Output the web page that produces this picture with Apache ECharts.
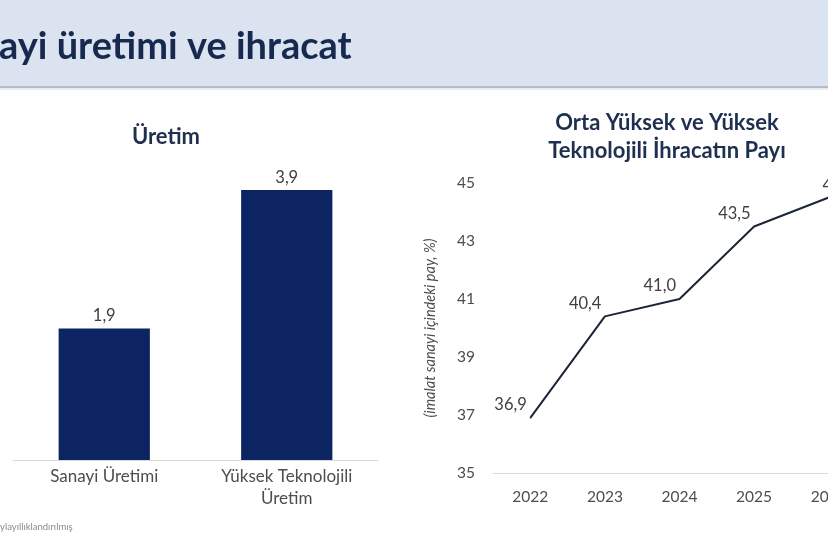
<!DOCTYPE html>
<html><head><meta charset="utf-8">
<script src="https://cdn.jsdelivr.net/npm/echarts@6/dist/echarts.min.js"></script>
<style>html,body{margin:0;padding:0;background:#fff;overflow:hidden;width:828px;height:552px}#c{width:870px;height:552px}</style>
</head><body><div id="c"></div>
<script>
// Left chart: production
const barCategories = ['Sanayi Üretimi', 'Yüksek Teknolojili\nÜretim'];
const barValues = [1.9, 3.9];
// Right chart: share of medium-high and high tech exports
const years = ['2022', '2023', '2024', '2025', '2026'];
const shareValues = [36.9, 40.4, 41.0, 43.5, 44.5];
const shareTicks = [35, 37, 39, 41, 43, 45];

const headerTitle = 'ayi üretimi ve ihracat';
const leftTitle = 'Üretim';
const rightTitle = 'Orta Yüksek ve Yüksek\nTeknolojili İhracatın Payı';
const rightAxisName = '(imalat sanayi içindeki pay, %)';
const footnote = 'ylayıllıklandırılmış';

const FONT = 'Lato, "Open Sans", sans-serif';
const fmt = v => Number(v).toFixed(1).replace('.', ',');

const chart = echarts.init(document.getElementById('c'), null, {renderer: 'canvas'});

const lineData = shareValues.map((v, i) => {
  if (i === shareValues.length - 1) {
    return {value: v, label: {position: 'top', offset: [10, 0]}};
  }
  return v;
});

chart.setOption({
  backgroundColor: '#ffffff',
  animation: false,
  textStyle: {fontFamily: FONT},
  graphic: [
    {type: 'rect', shape: {x: 0, y: 0, width: 870, height: 86}, style: {fill: '#dae3ef'}, z: 0},
    {type: 'rect', shape: {x: 0, y: 86, width: 870, height: 2}, style: {fill: '#b4bcc7'}, z: 0},
    {type: 'rect', shape: {x: 0, y: 88, width: 870, height: 2}, style: {fill: '#e9edf2'}, z: 0},
    {type: 'text', x: -1, y: 47, style: {text: headerTitle, fill: '#17294f', font: 'bold 38px ' + FONT, textVerticalAlign: 'middle'}, z: 1},
    {type: 'text', x: 0, y: 527, style: {text: footnote, fill: '#8c8c8c', font: '9.5px ' + FONT, textVerticalAlign: 'middle'}, z: 1}
  ],
  title: [
    {text: leftTitle, left: 161, top: 121, textAlign: 'center',
     textStyle: {fontFamily: FONT, fontSize: 22, fontWeight: 'bold', color: '#1f2f4f'}},
    {text: rightTitle, left: 662, top: 104, textAlign: 'center',
     textStyle: {fontFamily: FONT, fontSize: 22, fontWeight: 'bold', color: '#1f2f4f', lineHeight: 28}}
  ],
  grid: [
    {left: 13, right: 492, top: 114, bottom: 92},
    {left: 493, right: 4, top: 183, bottom: 79}
  ],
  xAxis: [
    {type: 'category', gridIndex: 0, data: barCategories,
     axisLine: {lineStyle: {color: '#d9d9d9', width: 1}}, axisTick: {show: false},
     axisLabel: {color: '#4d4d4d', fontSize: 17, fontFamily: FONT, lineHeight: 22, margin: 6}},
    {type: 'category', gridIndex: 1, data: years, boundaryGap: true,
     axisLine: {lineStyle: {color: '#d9d9d9', width: 1}}, axisTick: {show: false},
     axisLabel: {color: '#4d4d4d', fontSize: 15.5, fontFamily: FONT, margin: 16}}
  ],
  yAxis: [
    {type: 'value', gridIndex: 0, min: 0, max: 5, show: false, splitLine: {show: false}},
    {type: 'value', gridIndex: 1, min: shareTicks[0], max: shareTicks[shareTicks.length - 1],
     interval: shareTicks[1] - shareTicks[0],
     name: rightAxisName, nameLocation: 'middle', nameGap: 55, nameRotate: 90,
     nameTextStyle: {color: '#4d4d4d', fontSize: 14.5, fontStyle: 'italic', fontFamily: FONT},
     axisLine: {show: false}, axisTick: {show: false}, splitLine: {show: false},
     axisLabel: {color: '#4d4d4d', fontSize: 15.5, fontFamily: FONT, margin: 18}}
  ],
  series: [
    {type: 'bar', xAxisIndex: 0, yAxisIndex: 0, data: barValues, barWidth: '50%',
     itemStyle: {color: '#0c2461'},
     label: {show: true, position: 'top', distance: 4, color: '#404040', fontSize: 16.5, fontFamily: FONT,
             formatter: p => fmt(p.value)}},
    {type: 'line', xAxisIndex: 1, yAxisIndex: 1, data: lineData,
     symbol: 'circle', symbolSize: 1, showSymbol: true,
     itemStyle: {color: '#1c2538'},
     lineStyle: {color: '#1c2538', width: 2},
     label: {show: true, position: 'left', distance: 3, offset: [0, -13], color: '#404040', fontSize: 16.5, fontFamily: FONT,
             formatter: p => fmt(p.value)}}
  ]
});
</script>
</body></html>
